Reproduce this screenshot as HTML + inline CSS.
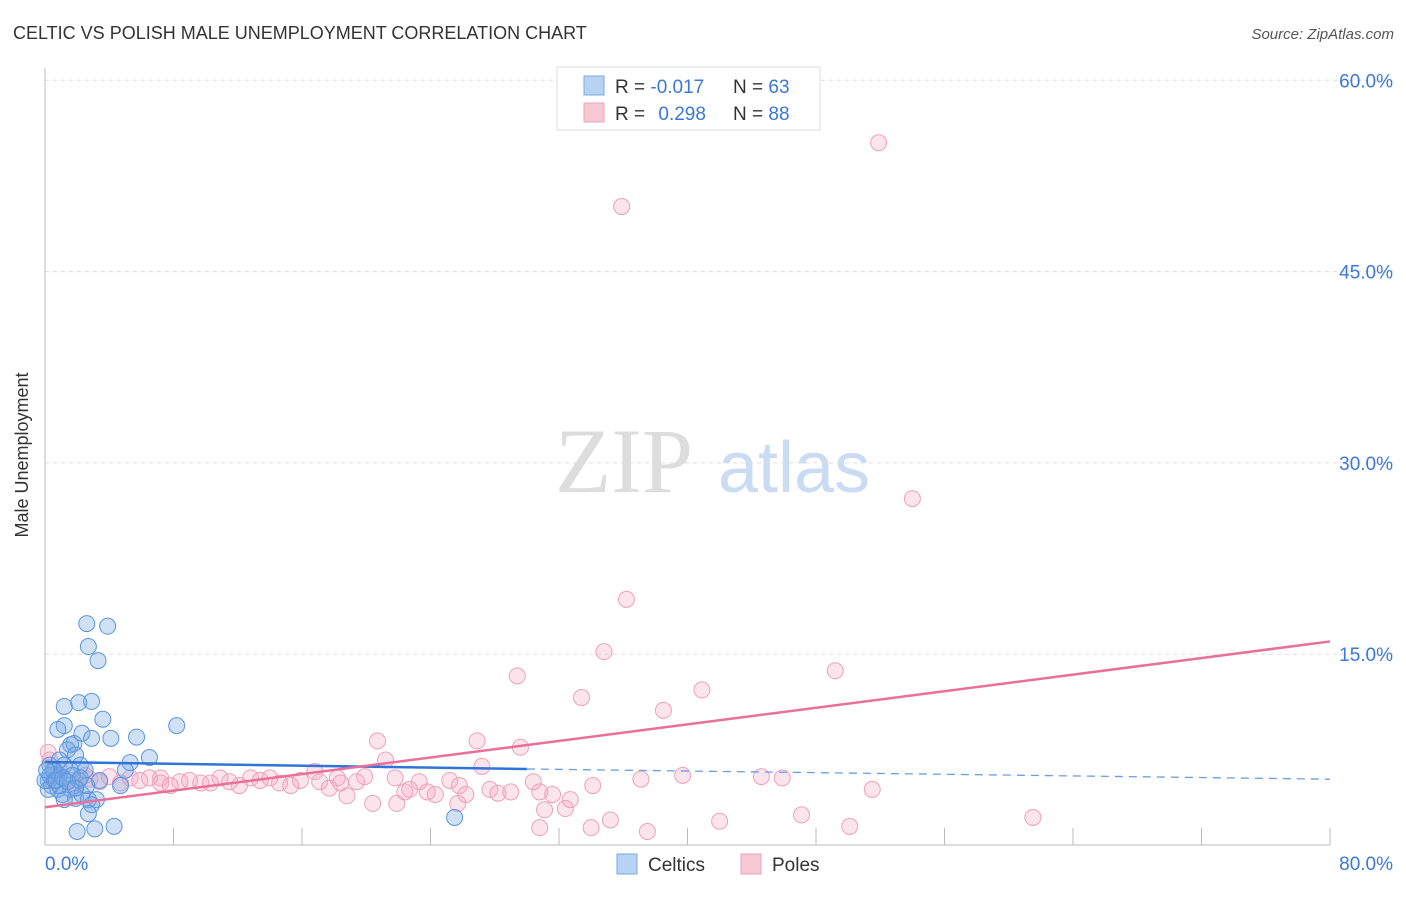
<!DOCTYPE html>
<html><head><meta charset="utf-8"><style>
body{margin:0;background:#fff;font-family:"Liberation Sans",sans-serif;}
</style></head><body>
<svg id="c" width="1406" height="892" xmlns="http://www.w3.org/2000/svg">
<text x="13" y="39" font-size="18" fill="#333">CELTIC VS POLISH MALE UNEMPLOYMENT CORRELATION CHART</text>
<text x="1394" y="39" font-size="15" font-style="italic" fill="#555" text-anchor="end">Source: ZipAtlas.com</text>
<text x="28" y="455" font-size="18" fill="#333" text-anchor="middle" transform="rotate(-90 28 455)">Male Unemployment</text>
<g>
<text x="555" y="492" font-size="92" font-family="Liberation Serif,serif" fill="#ddd">ZIP</text>
<text x="718" y="492" font-size="72" fill="#c9dcf3">atlas</text>
</g>
<g id="grid"></g><g id="axes"></g><g id="pts"></g><g id="trend"></g>
<g>
<rect x="557" y="67" width="263" height="63" fill="#fff" stroke="#ddd"/>
<rect x="584" y="76" width="20" height="19" fill="#b7d2f3" stroke="#7aa9e0"/>
<rect x="584" y="103" width="20" height="19" fill="#f9c8d7" stroke="#eea0b9"/>
<text x="615" y="93" font-size="19" fill="#333">R = <tspan fill="#3b78d8">-0.017</tspan></text>
<text x="733" y="93" font-size="19" fill="#333">N = <tspan fill="#3b78d8">63</tspan></text>
<text x="615" y="120" font-size="19" fill="#333">R = <tspan fill="#3b78d8" dx="8">0.298</tspan></text>
<text x="733" y="120" font-size="19" fill="#333">N = <tspan fill="#3b78d8">88</tspan></text>
</g>
<g>
<rect x="617" y="854" width="20" height="20" fill="#b7d2f3" stroke="#7aa9e0"/>
<text x="648" y="871" font-size="19" fill="#333">Celtics</text>
<rect x="741" y="854" width="20" height="20" fill="#f9c8d7" stroke="#eea0b9"/>
<text x="772" y="871" font-size="19" fill="#333">Poles</text>
</g>
</svg>
<script>
const yTicks=[15,30,45,60];
const yTickLabels=["15.0%","30.0%","45.0%","60.0%"];
const xTicks=[0,8,16,24,32,40,48,56,64,72,80];
const celticX=[2.6,3.9,2.7,3.3,1.2,2.1,2.9,3.6,8.2,1.2,0.8,1.6,1.8,2.3,2.9,4.1,5.7,6.5,5.3,1.4,1.9,2.2,2.5,0.3,0.6,0.9,0.2,0.4,0.8,1.1,1.6,1.9,2.3,2.7,3.2,1.2,0.2,0.0,0.3,0.6,0.9,1.6,2.1,2.6,2.9,2.7,3.1,2.0,4.3,25.5,4.7,5.0,0.9,1.2,1.7,2.2,0.5,0.1,0.7,1.1,1.4,1.9,3.4];
const celticY=[17.4,17.2,15.6,14.5,10.9,11.2,11.3,9.9,9.4,9.4,9.1,7.9,8.0,8.8,8.4,8.4,8.5,6.9,6.5,7.5,7.1,6.3,5.9,6.3,5.9,5.5,5.1,4.7,4.4,4.0,4.4,3.7,4.0,3.6,3.6,3.6,4.4,5.1,5.5,5.1,4.7,5.9,5.1,4.7,3.2,2.5,1.3,1.1,1.5,2.2,4.7,5.9,6.7,6.3,5.5,5.3,5.9,5.9,5.1,5.3,5.0,4.5,5.1];
const polesX=[51.9,35.9,54.0,36.2,34.8,29.4,49.2,33.4,40.9,38.5,20.7,26.9,29.6,21.2,16.8,27.2,39.7,44.6,45.9,37.1,30.4,51.5,34.1,25.2,23.3,18.2,19.9,19.4,15.9,12.8,11.5,9.7,8.4,6.5,5.3,4.0,2.8,1.6,0.6,0.3,0.9,1.9,3.4,4.7,5.9,7.2,7.8,9.0,10.3,12.1,13.4,14.6,15.3,17.1,17.7,18.8,20.4,21.9,22.4,22.7,24.3,25.8,26.2,25.7,27.7,28.2,29.0,31.6,31.1,32.4,32.7,30.8,35.2,34.0,30.8,37.5,42.0,47.1,50.1,61.5,23.8,21.8,18.4,14.0,10.9,7.2,2.5,0.2];
const polesY=[55.1,50.1,27.2,19.3,15.2,13.3,13.7,11.6,12.2,10.6,8.2,8.2,7.7,6.7,5.8,6.2,5.5,5.4,5.3,5.2,5.0,4.4,4.7,5.1,5.0,5.3,5.4,5.0,5.1,5.3,5.0,4.9,5.0,5.3,5.3,5.4,5.2,5.1,5.5,6.7,5.9,4.7,5.0,4.9,5.1,5.3,4.7,5.1,4.9,4.7,5.1,4.9,4.7,5.0,4.5,3.9,3.3,3.3,4.2,4.4,4.0,4.7,4.0,3.3,4.4,4.1,4.2,4.0,2.8,2.9,3.6,4.2,2.0,1.4,1.4,1.1,1.9,2.4,1.5,2.2,4.2,5.3,4.9,5.3,5.3,4.9,5.5,7.3];
const celticTrend=[6.55,6.0,5.2];
const polesTrend=[3.0,16.0];
const NS="http://www.w3.org/2000/svg";
const sx=v=>45+v/80*1285;
const sy=v=>845.5-v/15*191.3;
function mk(t,a,p){const e=document.createElementNS(NS,t);for(const k in a)e.setAttribute(k,a[k]);document.getElementById(p).appendChild(e);return e;}
yTicks.forEach((t,i)=>{
 const l=mk('line',{x1:45,x2:1393,y1:sy(t),y2:sy(t),stroke:'#ddd','stroke-dasharray':'4,4'},'grid');
 
 
 const tx=mk('text',{x:1393,y:sy(t)+7,'font-size':19,fill:'#3b78d8','text-anchor':'end'},'axes');
 tx.textContent=yTickLabels[i];
 
 
});
const ax=mk('line',{x1:45,x2:45,y1:68,y2:845,stroke:'#bbb'},'axes');


const bx=mk('line',{x1:45,x2:1330,y1:845,y2:845,stroke:'#bbb'},'axes');


xTicks.forEach(t=>{
 const l=mk('line',{x1:sx(t),x2:sx(t),y1:828,y2:845,stroke:'#bbb'},'axes');
 
 
});
const x0=mk('text',{x:45,y:870,'font-size':19,fill:'#3b78d8'},'axes');x0.textContent='0.0%';


const x1=mk('text',{x:1393,y:870,'font-size':19,fill:'#3b78d8','text-anchor':'end'},'axes');x1.textContent='80.0%';


polesX.forEach((v,i)=>{
 const c=mk('circle',{cx:sx(v),cy:sy(polesY[i]),r:8,fill:'rgba(244,166,192,0.3)',stroke:'#eea0b9','stroke-width':1},'pts');
 
 
});
celticX.forEach((v,i)=>{
 const c=mk('circle',{cx:sx(v),cy:sy(celticY[i]),r:8,fill:'rgba(120,170,230,0.35)',stroke:'#5a95dc','stroke-width':1},'pts');
 
 
});
const t1=mk('line',{x1:sx(0),y1:sy(celticTrend[0]),x2:sx(30),y2:sy(celticTrend[1]),stroke:'#2f74d6','stroke-width':2.5},'trend');


const t2=mk('line',{x1:sx(30),y1:sy(celticTrend[1]),x2:sx(80),y2:sy(celticTrend[2]),stroke:'#6a9ee0','stroke-width':1.3,'stroke-dasharray':'8,6'},'trend');


const t3=mk('line',{x1:sx(0),y1:sy(polesTrend[0]),x2:sx(80),y2:sy(polesTrend[1]),stroke:'#e8709a','stroke-width':2.5},'trend');


</script>
</body></html>
